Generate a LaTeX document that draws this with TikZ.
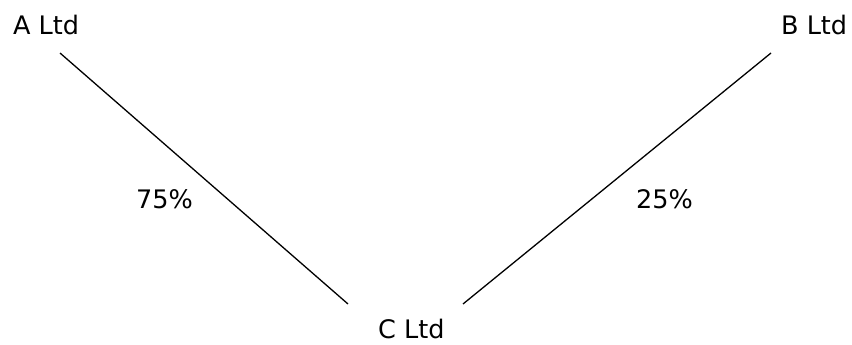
\documentclass[tikz,border=0pt]{standalone}
\usepackage{fontspec}
\setmainfont{DejaVu Sans}
\begin{document}
\begin{tikzpicture}[x=1pt,y=-1pt,
  lbl/.style={inner sep=0pt,anchor=base west,font=\fontsize{25.5}{29}\selectfont},
  link/.style={line width=1.3pt,black}]
\useasboundingbox (0,0) rectangle (852,345);
\node[lbl] (A) at (13,35) {A Ltd};
\node[lbl] (B) at (781,35) {B Ltd};
\node[lbl] (C) at (378,338) {C Ltd};
\node[lbl] (p1) at (136,208) {75\%};
\node[lbl] (p2) at (636,208) {25\%};
\coordinate (a1) at (60,53);
\coordinate (a2) at (348,304);
\coordinate (b1) at (771,53);
\coordinate (b2) at (463,304);
\draw[link] (a1) -- (a2);
\draw[link] (b1) -- (b2);
\end{tikzpicture}
\end{document}
